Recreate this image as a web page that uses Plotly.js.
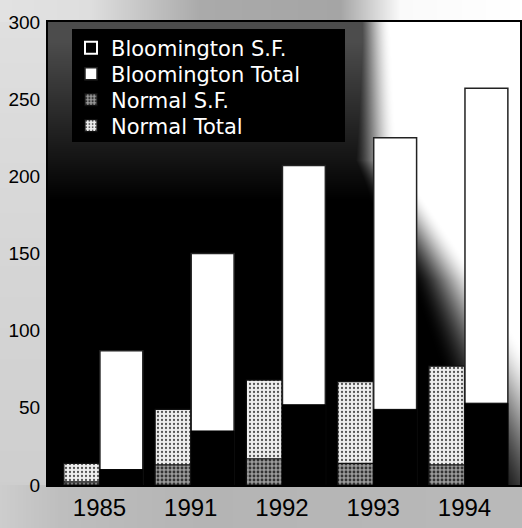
<!DOCTYPE html>
<html>
<head>
<meta charset="utf-8">
<script src="https://cdn.plot.ly/plotly-3.0.1.min.js"></script>
<style>
html,body{margin:0;padding:0;background:#d6d6d6;}
#chart{width:522px;height:528px;}
.legend .traces{opacity:1 !important;}
</style>
</head>
<body>
<div id="chart"></div>
<script>
// Data
const years = ['1985', '1991', '1992', '1993', '1994'];
const normalTotal = [14, 49, 68, 67, 77];
const normalSF = [2, 13, 17, 14, 13];
const bloomTotal = [87, 150, 207, 225, 257];
const bloomSF = [10, 35, 52, 49, 53];
const yTicks = [0, 50, 100, 150, 200, 250, 300];

const M = {l: 48, r: 2, t: 22, b: 43};
const W = 522, H = 528;
const pw = W - M.l - M.r, ph = H - M.t - M.b;

// backdrop: light paper with a black-to-white shaded plot area (as in the scanned original)
function interp(v, xs, ys) {
  if (v <= xs[0]) return ys[0];
  for (let i = 1; i < xs.length; i++) {
    if (v <= xs[i]) return ys[i - 1] + (ys[i] - ys[i - 1]) * (v - xs[i - 1]) / (xs[i] - xs[i - 1]);
  }
  return ys[ys.length - 1];
}
const cv = document.createElement('canvas');
cv.width = W; cv.height = H;
const ctx = cv.getContext('2d');
const img = ctx.createImageData(W, H);
for (let y = 0; y < H; y++) {
  for (let x = 0; x < W; x++) {
    let c;
    if (x >= M.l && x < W - M.r && y >= M.t && y < H - M.b) {
      const xi = interp(y, [22, 160, 280, 485], [368, 372, 445, 545]);
      const w = interp(y, [22, 160, 280, 485], [45, 50, 70, 130]);
      let v = (x - xi) / w + 0.5;
      v = Math.max(0, Math.min(1, v));
      v = v * v * (3 - 2 * v);
      const tl = 0.3 * Math.max(0, Math.min(1, 1 - (y - 40) / 160));
      c = 255 * Math.max(v, tl);
    } else if (y < M.t) {
      c = interp(x, [0, 90, 200, 340, 400, 522], [226, 222, 170, 165, 250, 255]);
    } else if (y >= H - M.b) {
      c = interp(x, [0, 60, 200, 522], [205, 190, 180, 185]);
    } else {
      c = interp(y, [0, 250, 528], [224, 214, 205]);
    }
    const k = (y * W + x) * 4;
    img.data[k] = img.data[k + 1] = img.data[k + 2] = c;
    img.data[k + 3] = 255;
  }
}
ctx.putImageData(img, 0, 0);
const bgURL = cv.toDataURL('image/png');

const NW = 0.39, BW = 0.47;
const font = 'Liberation Sans, Arial, Helvetica, sans-serif';
const legFamily = 'DejaVu Sans, Liberation Sans, Arial, sans-serif';
const rowY = py => 1 - (py - M.t) / ph;
const legX = (71 - M.l) / pw;
const legFont = {family: legFamily, size: 21, color: '#ffffff'};
function leg(py) {
  return {x: legX, y: rowY(py), xanchor: 'left', yanchor: 'middle', bgcolor: 'rgba(0,0,0,0)',
          borderwidth: 0, font: legFont, itemwidth: 30};
}

const traces = [
  {type: 'bar', name: 'Normal Total', x: years, y: normalTotal, offset: -NW, width: NW, legend: 'legend4',
   marker: {color: '#e6e6e6', line: {color: '#111', width: 1.2},
            pattern: {shape: '.', bgcolor: '#eeeeee', fgcolor: '#555555', size: 4, solidity: 0.25}}},
  {type: 'bar', name: 'Normal S.F.', x: years, y: normalSF, offset: -NW, width: NW, legend: 'legend3',
   marker: {color: '#8a8a8a', line: {color: '#111', width: 1.2},
            pattern: {shape: '.', bgcolor: '#9a9a9a', fgcolor: '#333333', size: 4, solidity: 0.4}}},
  {type: 'bar', name: 'Bloomington Total', x: years, y: bloomTotal, offset: 0.005, width: BW, legend: 'legend2',
   marker: {color: '#ffffff', line: {color: '#222', width: 1.5}}},
  {type: 'bar', name: 'Bloomington S.F.', x: years, y: bloomSF, offset: 0.005, width: BW, showlegend: false,
   marker: {color: '#000000', line: {color: '#000', width: 1}}},
  // key entry for Bloomington S.F. (black swatch with a white outline, as in the original key)
  {type: 'bar', name: 'Bloomington S.F.', x: years, y: bloomSF, offset: 0.005, width: BW, legend: 'legend',
   visible: 'legendonly', marker: {color: '#000000', line: {color: '#ffffff', width: 2}}}
];

const layout = {
  width: W, height: H,
  margin: M,
  paper_bgcolor: '#d6d6d6',
  plot_bgcolor: 'rgba(0,0,0,0)',
  barmode: 'overlay',
  showlegend: true,
  legend: leg(48),
  legend2: leg(74),
  legend3: leg(100),
  legend4: leg(126),
  xaxis: {type: 'category', range: [-0.564, 4.608], showgrid: false, zeroline: false,
          showline: true, mirror: true, linecolor: '#000', linewidth: 2, ticks: '',
          tickfont: {family: font, size: 24, color: '#000'}},
  yaxis: {range: [0, 300], tickvals: yTicks, showgrid: false, zeroline: false,
          showline: true, mirror: true, linecolor: '#000', linewidth: 2, ticks: '',
          ticklabelstandoff: 2,
          tickfont: {family: font, size: 19, color: '#000'}},
  images: [{source: bgURL, xref: 'paper', yref: 'paper',
            x: -M.l / pw, y: 1 + M.t / ph, sizex: W / pw, sizey: H / ph,
            sizing: 'stretch', xanchor: 'left', yanchor: 'top', layer: 'below'}],
  shapes: [{type: 'rect', xref: 'paper', yref: 'paper', layer: 'below',
            x0: (72 - M.l) / pw, x1: (345 - M.l) / pw,
            y0: rowY(142), y1: rowY(29),
            fillcolor: '#000', line: {width: 0}}]
};

Plotly.newPlot('chart', traces, layout, {displayModeBar: false, staticPlot: true});
</script>
</body>
</html>
